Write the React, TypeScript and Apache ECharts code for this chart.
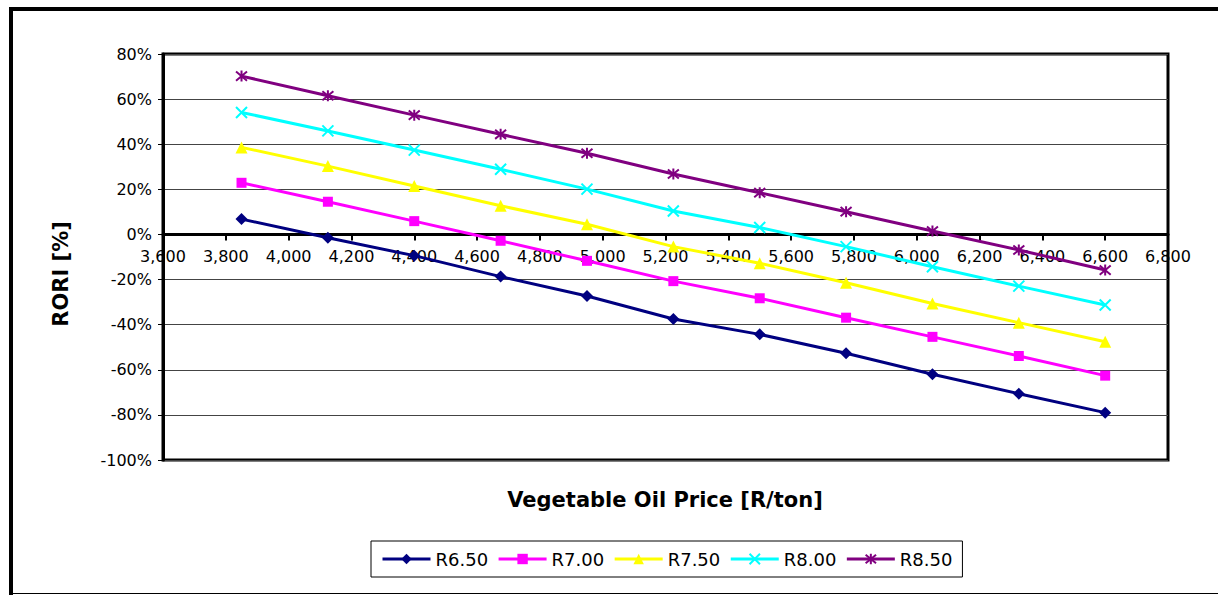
import React, { useEffect, useRef } from "react";
import * as echarts from "echarts";

// Vegetable oil price [R/ton] at each data point
const prices = [3850, 4125, 4400, 4675, 4950, 5225, 5500, 5775, 6050, 6325, 6600];

// RORI [%] per biodiesel price scenario
const seriesNames = ["R6.50", "R7.00", "R7.50", "R8.00", "R8.50"];
const r650 = [6.8, -1.5, -9.4, -18.7, -27.3, -37.5, -44.3, -52.7, -62.0, -70.6, -79.0];
const r700 = [22.9, 14.5, 5.9, -2.8, -11.7, -20.7, -28.3, -36.9, -45.4, -53.9, -62.6];
const r750 = [38.6, 30.3, 21.5, 12.7, 4.5, -5.4, -12.8, -21.4, -30.6, -39.1, -47.6];
const r800 = [54.1, 45.9, 37.4, 28.9, 20.1, 10.4, 3.1, -5.4, -14.3, -22.9, -31.3];
const r850 = [70.2, 61.5, 52.9, 44.4, 36.0, 26.8, 18.5, 10.1, 1.5, -6.9, -15.8];
const seriesValues = [r650, r700, r750, r800, r850];

const colors = ["#000080", "#FF00FF", "#FFFF00", "#00FFFF", "#800080"];
const symbols = [
  "diamond",
  "rect",
  "triangle",
  "path://M0,0L10,10M10,0L0,10",
  "path://M0,0L10,10M10,0L0,10M5,-1L5,11",
];
const symbolSizes = [12, 10, 12, 11, 11];

const FONT = "DejaVu Sans";

const GRID_TOP = 54;
const GRID_BOTTOM_Y = 460;
const Y_MIN = -100;
const Y_MAX = 80;

export default function App() {
  const ref = useRef<HTMLDivElement>(null);

  useEffect(() => {
    const chart = echarts.init(ref.current!, null, { renderer: "svg" });

    const series = seriesNames.map((name, si) => {
      const isStroke = si >= 3;
      return {
        name,
        type: "line",
        data: prices.map((p, i) => [p, seriesValues[si][i]]),
        symbol: symbols[si],
        symbolSize: symbolSizes[si],
        showAllSymbol: true,
        lineStyle: { color: colors[si], width: 3 },
        itemStyle: {
          color: colors[si],
          borderColor: colors[si],
          borderWidth: isStroke ? 2 : 0,
        },
        emphasis: { disabled: true },
      };
    });

    // place the x axis on the 0% line
    const zeroOffset = -((GRID_BOTTOM_Y - GRID_TOP) * (0 - Y_MIN)) / (Y_MAX - Y_MIN);

    chart.setOption({
      animation: false,
      backgroundColor: "#ffffff",
      grid: {
        left: 163,
        right: 50,
        top: GRID_TOP,
        bottom: 595 - GRID_BOTTOM_Y,
        show: true,
        borderColor: "#000",
        borderWidth: 3,
        backgroundColor: "#fff",
        outerBoundsMode: "none",
      },
      xAxis: {
        type: "value",
        min: 3600,
        max: 6800,
        interval: 200,
        position: "bottom",
        offset: zeroOffset,
        axisLine: { onZero: false, lineStyle: { color: "#000", width: 3 } },
        axisTick: { show: true, length: 6, lineStyle: { color: "#000", width: 2 } },
        axisLabel: {
          margin: 14,
          color: "#000",
          fontSize: 16,
          fontFamily: FONT,
          formatter: (v: number) => v.toLocaleString("en-US"),
        },
        splitLine: { show: false },
      },
      yAxis: {
        type: "value",
        min: Y_MIN,
        max: Y_MAX,
        interval: 20,
        axisLine: { show: true, lineStyle: { color: "#000", width: 3 } },
        axisTick: { show: true, length: 5, lineStyle: { color: "#000", width: 1 } },
        axisLabel: {
          margin: 11,
          color: "#000",
          fontSize: 16,
          fontFamily: FONT,
          formatter: "{value}%",
        },
        splitLine: { show: true, lineStyle: { color: "#444", width: 1 } },
      },
      legend: {
        data: seriesNames,
        left: 371,
        top: 541,
        orient: "horizontal",
        borderColor: "#000",
        borderWidth: 1,
        padding: [9, 10],
        itemWidth: 48,
        itemHeight: 13,
        itemGap: 9,
        lineStyle: { width: 3 },
        textStyle: { color: "#000", fontSize: 18, fontFamily: FONT },
      },
      graphic: [
        { type: "line", shape: { x1: 9, y1: 9, x2: 1218, y2: 9 }, style: { stroke: "#000", lineWidth: 4 } },
        { type: "line", shape: { x1: 11, y1: 7, x2: 11, y2: 595 }, style: { stroke: "#000", lineWidth: 4 } },
        { type: "line", shape: { x1: 9, y1: 593.5, x2: 1218, y2: 593.5 }, style: { stroke: "#000", lineWidth: 1 } },
        {
          type: "text",
          x: 61,
          y: 274,
          rotation: Math.PI / 2,
          style: {
            text: "RORI [%]",
            fontSize: 21,
            fontWeight: "bold",
            fontFamily: FONT,
            fill: "#000",
            align: "center",
            verticalAlign: "middle",
          },
        },
        {
          type: "text",
          x: 665,
          y: 500,
          style: {
            text: "Vegetable Oil Price [R/ton]",
            fontSize: 21,
            fontWeight: "bold",
            fontFamily: FONT,
            fill: "#000",
            align: "center",
            verticalAlign: "middle",
          },
        },
      ],
      series,
    });

    return () => chart.dispose();
  }, []);

  return (
    <div
      ref={ref}
      style={{ position: "fixed", left: 0, top: 0, width: 1218, height: 595, background: "#fff" }}
    />
  );
}
